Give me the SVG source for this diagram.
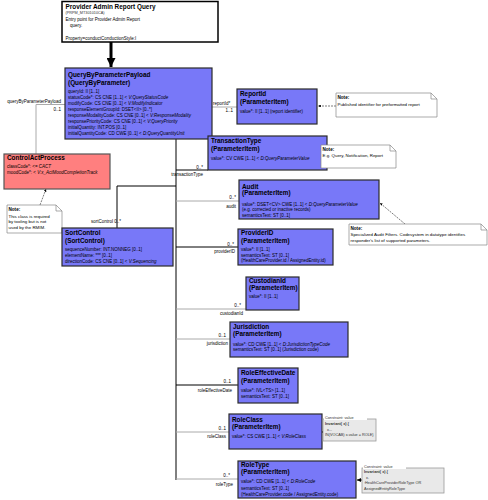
<svg xmlns="http://www.w3.org/2000/svg" width="488" height="500" viewBox="0 0 488 500">
<defs>
<marker id="ah" viewBox="0 0 10 10" refX="10" refY="5" markerWidth="4" markerHeight="4" orient="auto"><path d="M0,0 L10,5 L0,10 Z" fill="#000"/></marker>
<marker id="big" viewBox="0 0 10 10" refX="10" refY="5" markerWidth="3" markerHeight="3" orient="auto"><path d="M0,0 L10,5 L0,10 Z" fill="#000"/></marker>
</defs>
<style>
text{font-family:"Liberation Sans",Arial,sans-serif;fill:#000}
.t{font-size:6.4px;font-weight:bold}
.a{font-size:4.5px}
.i{font-style:italic}
.n{font-size:4.4px}
.nb{font-size:4.6px;font-weight:bold}
.l{font-size:4.5px}
.c{font-size:3.8px;fill:#333}
.cb{font-size:3.8px;font-weight:bold;fill:#333}
.box{fill:#7878f8;stroke:#2a2a2a;stroke-width:1.2}
.act{fill:#ff7f7f;stroke:#555;stroke-width:1.2}
.note{fill:#fff;stroke:#888;stroke-width:0.7}
.cons{fill:#e9e9e9;stroke:#999;stroke-width:0.8}
.k{fill:none;stroke:#000;stroke-width:1}
.g{fill:none;stroke:#aaa;stroke-width:1}
.d{fill:none;stroke:#444;stroke-width:0.7;stroke-dasharray:2,1}
</style>
<rect width="488" height="500" fill="#fff"/>

<g id="connectors">
<line x1="111" y1="42" x2="111" y2="67" stroke="#000" stroke-width="3" marker-end="url(#big)"/>
<polyline class="g" points="36,154 36,104.5 65,104.5"/>
<line class="g" x1="212" y1="107" x2="237" y2="107"/>
<line class="k" x1="176" y1="139" x2="176" y2="480"/>
<polyline class="k" points="117,228 117,186 176,186"/>
<line class="k" x1="176" y1="170" x2="208" y2="170"/>
<line class="g" x1="176" y1="201" x2="239" y2="201"/>
<line class="k" x1="176" y1="247" x2="238" y2="247"/>
<line class="g" x1="176" y1="309" x2="246" y2="309"/>
<line class="g" x1="176" y1="339" x2="230" y2="339"/>
<line class="k" x1="176" y1="385" x2="238" y2="385"/>
<line class="g" x1="176" y1="432" x2="229" y2="432"/>
<line class="g" x1="176" y1="479" x2="238" y2="479"/>
<line class="d" x1="40" y1="205" x2="46" y2="189" marker-end="url(#ah)"/>
<line class="d" x1="336" y1="106" x2="318" y2="106" marker-end="url(#ah)"/>
<line class="d" x1="330" y1="150" x2="327.5" y2="146" marker-end="url(#ah)"/>
<line class="d" x1="405" y1="224" x2="380" y2="203" marker-end="url(#ah)"/>
<line class="k" x1="323" y1="432" x2="321" y2="432" marker-end="url(#ah)"/>
<line class="k" x1="362" y1="480" x2="357" y2="480" marker-end="url(#ah)"/>
<text class="l" x="61" y="103" text-anchor="end">queryByParameterPayload</text>
<text class="l" x="61" y="110.7" text-anchor="end">0..1</text>
<text class="l" x="213" y="104.5">reportId*</text>
<text class="l" x="233" y="111.7" text-anchor="end">1..1</text>
<text class="l" x="203" y="168.5" text-anchor="end">0..*</text>
<text class="l" x="203" y="176" text-anchor="end">transactionType</text>
<text class="l" x="236" y="199" text-anchor="end">0..*</text>
<text class="l" x="236" y="208" text-anchor="end">audit</text>
<text class="l" x="234" y="245.5" text-anchor="end">0..*</text>
<text class="l" x="235" y="253" text-anchor="end">providerID</text>
<text class="l" x="241" y="306.5" text-anchor="end">0..*</text>
<text class="l" x="243" y="315" text-anchor="end">custodianId</text>
<text class="l" x="226" y="336.7" text-anchor="end">0..1</text>
<text class="l" x="228" y="345" text-anchor="end">jurisdiction</text>
<text class="l" x="231" y="382.7" text-anchor="end">0..1</text>
<text class="l" x="232" y="391.7" text-anchor="end">roleEffectiveDate</text>
<text class="l" x="226" y="429.7" text-anchor="end">0..1</text>
<text class="l" x="226" y="437.7" text-anchor="end">roleClass</text>
<text class="l" x="230" y="477" text-anchor="end">0..*</text>
<text class="l" x="233" y="485.7" text-anchor="end">roleType</text>
<text class="l" x="91" y="222.7">sortControl 0..*</text>
</g>

<g id="entry">
<rect x="62" y="1.5" width="156" height="40.5" fill="#fff" stroke="#000" stroke-width="1.5"/>
<text class="t" x="65.5" y="9.3">Provider Admin Report Query</text>
<text class="c" x="65.5" y="13.8">(PRPM_MT301010CA)</text>
<text class="a" x="65.5" y="21">Entry point for Provider Admin Report</text>
<text class="a" x="70" y="26.5">query.</text>
<text class="a" x="65.5" y="39.5">Property=conductConductionStyle:I</text>
</g>

<g id="QueryByParameterPayload">
<rect class="box" x="65" y="68" width="147" height="71"/>
<text class="t" x="68" y="77">QueryByParameterPayload</text>
<text class="t" x="68" y="85">(QueryByParameter)</text>
<text class="a" x="68" y="93.3">queryId: II [1..1]</text>
<text class="a" x="68" y="99.3">statusCode*: CS CNE [1..1] &lt; <tspan class="i">V:QueryStatusCode</tspan></text>
<text class="a" x="68" y="105.3">modifyCode: CS CNE [0..1] &lt; <tspan class="i">V:ModifyIndicator</tspan></text>
<text class="a" x="68" y="111.3">responseElementGroupId: DSET&lt;II&gt; [0..*]</text>
<text class="a" x="68" y="117.3">responseModalityCode: CS CNE [0..1] &lt; <tspan class="i">V:ResponseModality</tspan></text>
<text class="a" x="68" y="123.3">responsePriorityCode: CS CNE [0..1] &lt; <tspan class="i">V:QueryPriority</tspan></text>
<text class="a" x="68" y="129.3">initialQuantity: INT.POS [0..1]</text>
<text class="a" x="68" y="135.3">initialQuantityCode: CD CWE [0..1] &lt; <tspan class="i">D:QueryQuantityUnit</tspan></text>
</g>

<g id="ControlActProcess">
<rect class="act" x="4" y="154" width="106" height="35"/>
<text class="t" x="7" y="159.8">ControlActProcess</text>
<text class="a" x="7" y="167.7">classCode*: &lt;= <tspan class="i">CACT</tspan></text>
<text class="a" x="7" y="173.7">moodCode*: &lt; <tspan class="i">V:x_ActMoodCompletionTrack</tspan></text>
</g>

<g id="noteCAP">
<path class="note" d="M7,205 H56 L62,211 V233 H7 Z M56,205 V211 H62"/>
<text class="nb" x="8.5" y="211">Note:</text>
<text class="n" x="8.5" y="217.7">This class is required</text>
<text class="n" x="8.5" y="223.3">by tooling but is not</text>
<text class="n" x="8.5" y="229">used by the RMIM.</text>
</g>

<g id="SortControl">
<rect class="box" x="62" y="228" width="111" height="38"/>
<text class="t" x="65" y="235">SortControl</text>
<text class="t" x="65" y="242.5">(SortControl)</text>
<text class="a" x="65" y="251">sequenceNumber: INT.NONNEG [0..1]</text>
<text class="a" x="65" y="257">elementName: *** [0..1]</text>
<text class="a" x="65" y="263">directionCode: CS CNE [0..1] &lt; <tspan class="i">V:Sequencing</tspan></text>
</g>

<g id="ReportId">
<rect class="box" x="237" y="89" width="80" height="35"/>
<text class="t" x="240" y="96.3">ReportId</text>
<text class="t" x="240" y="104.3">(ParameterItem)</text>
<text class="a" x="240" y="112.7">value*: II [1..1] (report identifier)</text>
</g>

<g id="noteReportId">
<path class="note" d="M336,93 H431 L437,99 V117 H336 Z M431,93 V99 H437"/>
<text class="nb" x="337.5" y="99">Note:</text>
<text class="n" x="337.5" y="105.7">Published identifier for preformatted report</text>
</g>

<g id="TransactionType">
<rect class="box" x="208" y="136" width="119" height="34"/>
<text class="t" x="211" y="143">TransactionType</text>
<text class="t" x="211" y="150.6">(ParameterItem)</text>
<text class="a" x="211" y="160">value*: CV CWE [1..1] &lt; <tspan class="i">D:QueryParameterValue</tspan></text>
</g>

<g id="noteTransactionType">
<path class="note" d="M321,145 H390 L396,151 V168 H321 Z M390,145 V151 H396"/>
<text class="nb" x="322.5" y="150.5">Note:</text>
<text class="n" x="322.5" y="157">E.g. Query, Notification, Report</text>
</g>

<g id="Audit">
<rect class="box" x="239" y="180" width="140" height="39"/>
<text class="t" x="242" y="188.5">Audit</text>
<text class="t" x="242" y="195">(ParameterItem)</text>
<text class="a" x="242" y="205.5">value*: DSET&lt;CV&gt; CWE [1..1] &lt; <tspan class="i">D:QueryParameterValue</tspan></text>
<text class="a" x="242" y="211">  (e.g. corrected or inactive records)</text>
<text class="a" x="242" y="216.5">semanticsText: ST [0..1]</text>
</g>

<g id="noteAudit">
<path class="note" d="M349,224 H481 L487,230 V245 H349 Z M481,224 V230 H487"/>
<text class="nb" x="350.5" y="229.5">Note:</text>
<text class="n" x="350.5" y="236">Specialized Audit Filters. Codesystem in datatype identifies</text>
<text class="n" x="350.5" y="242">responder's list of supported parameters.</text>
</g>

<g id="ProviderID">
<rect class="box" x="238" y="229" width="95" height="36"/>
<text class="t" x="241" y="235">ProviderID</text>
<text class="t" x="241" y="243.3">(ParameterItem)</text>
<text class="a" x="241" y="251.4">value*: II [1..1]</text>
<text class="a" x="241" y="256.9">semanticsText: ST [0..1]</text>
<text class="a" x="241" y="262.4"> (HealthCareProvider.id / AssignedEntity.id)</text>
</g>

<g id="CustodianId">
<rect class="box" x="246" y="277" width="53" height="33"/>
<text class="t" x="249" y="283">CustodianId</text>
<text class="t" x="249" y="290.3">(ParameterItem)</text>
<text class="a" x="249" y="298.4">value*: II [1..1]</text>
</g>

<g id="Jurisdiction">
<rect class="box" x="230" y="322" width="118" height="35"/>
<text class="t" x="233" y="329">Jurisdiction</text>
<text class="t" x="233" y="336.3">(ParameterItem)</text>
<text class="a" x="233" y="346">value*: CD CWE [1..1] &lt; <tspan class="i">D:JurisdictionTypeCode</tspan></text>
<text class="a" x="233" y="351">semanticsText: ST [0..1] (Jurisdiction code)</text>
</g>

<g id="RoleEffectiveDate">
<rect class="box" x="238" y="368" width="60" height="35"/>
<text class="t" x="241" y="375">RoleEffectiveDate</text>
<text class="t" x="241" y="383">(ParameterItem)</text>
<text class="a" x="241" y="391.7">value*: IVL&lt;TS&gt; [1..1]</text>
<text class="a" x="241" y="397.7">semanticsText: ST [0..1]</text>
</g>

<g id="RoleClass">
<rect class="box" x="229" y="414" width="93" height="35"/>
<text class="t" x="232" y="421.6">RoleClass</text>
<text class="t" x="232" y="429">(ParameterItem)</text>
<text class="a" x="232" y="438.4">value*: CS CWE [1..1] &lt; <tspan class="i">V:RoleClass</tspan></text>
</g>

<g id="constraintRoleClass">
<rect class="cons" x="323" y="419" width="53" height="22"/>
<rect x="324" y="415.5" width="43" height="4.5" fill="#fff"/>
<text class="c" x="325" y="419">Constraint: value</text>
<text class="cb" x="325" y="425.3">Invariant( x) {</text>
<text class="c" x="327" y="430.6">x...</text>
<text class="c" x="325" y="435.6">IN(VOCAB) x.value = ROLE}</text>
</g>

<g id="RoleType">
<rect class="box" x="238" y="461" width="118" height="37"/>
<text class="t" x="241" y="467.3">RoleType</text>
<text class="t" x="241" y="474.3">(ParameterItem)</text>
<text class="a" x="241" y="483.4">value*: CD CWE [1..1] &lt; <tspan class="i">D:RoleCode</tspan></text>
<text class="a" x="241" y="489.8">semanticsText: ST [0..1]</text>
<text class="a" x="241" y="496.2"> (HealthCareProvider.code / AssignedEntity.code)</text>
</g>

<g id="constraintRoleType">
<rect class="cons" x="362" y="468" width="82" height="25"/>
<rect x="363" y="464.5" width="43" height="4.5" fill="#fff"/>
<text class="c" x="364" y="468">Constraint: value</text>
<text class="cb" x="364" y="473">Invariant( x) {</text>
<text class="c" x="366" y="478.5">x.</text>
<text class="c" x="364" y="484">:HealthCareProviderRoleType OR</text>
<text class="c" x="364" y="489.5">AssignedEntityRoleType</text>
</g>
</svg>
